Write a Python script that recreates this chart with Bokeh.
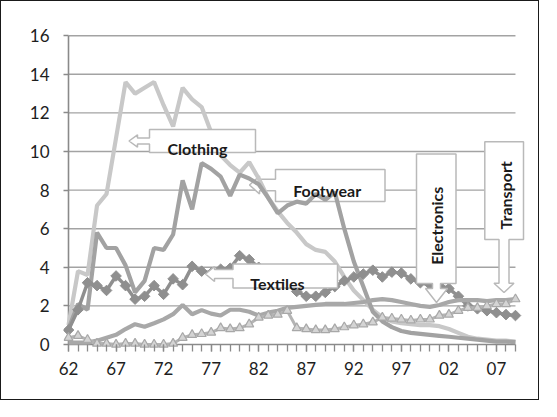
from bokeh.plotting import figure
from bokeh.models import ColumnDataSource, FixedTicker, Range1d
from bokeh.core.properties import value
from bokeh.embed import file_html
from bokeh.resources import INLINE
import math

# ---------------- data ----------------
YEARS = list(range(1962, 2010))
XTICK_YEARS = [1962, 1967, 1972, 1977, 1982, 1987, 1992, 1997, 2002, 2007]
XTICK_LABELS = ["62", "67", "72", "77", "82", "87", "92", "97", "02", "07"]
YTICKS = [0, 2, 4, 6, 8, 10, 12, 14, 16]

CLOTHING = [1.0, 3.8, 3.6, 7.2, 7.8, 10.7, 13.6, 13.0, 13.3, 13.6,
            12.4, 11.3, 13.3, 12.7, 12.3, 11.0, 9.8, 9.3, 8.9, 9.45,
            8.6, 7.6, 6.9, 6.3, 5.8, 5.2, 4.9, 4.8, 4.3, 3.5,
            2.8, 2.3, 1.8, 1.4, 1.2, 1.1, 1.05, 1.0, 1.0, 0.95,
            0.8, 0.6, 0.4, 0.3, 0.25, 0.2, 0.2, 0.15]
FOOTWEAR = [0.8, 2.1, 1.8, 5.8, 5.0, 5.0, 4.1, 2.7, 3.3, 5.0,
            4.9, 5.7, 8.5, 7.0, 9.4, 9.1, 8.7, 7.7, 8.8, 8.6,
            8.3, 7.6, 6.8, 7.2, 7.4, 7.3, 7.8, 7.5, 7.9, 6.0,
            4.3, 3.0, 1.7, 1.2, 0.9, 0.7, 0.6, 0.55, 0.5, 0.45,
            0.4, 0.35, 0.3, 0.25, 0.2, 0.15, 0.15, 0.12]
TEXTILES = [0.75, 1.8, 3.2, 3.05, 2.8, 3.55, 3.05, 2.35, 2.5, 3.05,
            2.6, 3.4, 3.1, 4.05, 3.8, 3.7, 3.9, 3.95, 4.6, 4.4,
            4.0, 3.7, 3.4, 3.1, 2.75, 2.5, 2.5, 2.7, 3.0, 3.3,
            3.5, 3.65, 3.85, 3.5, 3.75, 3.7, 3.4, 3.2, 3.1, 3.05,
            2.9, 2.5, 2.0, 1.85, 1.75, 1.65, 1.55, 1.5]
ELECTRONICS = [0.1, 0.1, 0.1, 0.2, 0.35, 0.5, 0.8, 1.05, 0.92, 1.1,
               1.3, 1.57, 2.05, 1.57, 1.78, 1.6, 1.5, 1.8, 1.8, 1.7,
               1.5, 1.65, 1.75, 1.9, 1.95, 2.0, 2.05, 2.1, 2.1, 2.1,
               2.15, 2.2, 2.3, 2.35, 2.3, 2.2, 2.1, 2.0, 1.95, 2.05,
               2.2, 2.3, 2.3, 2.3, 2.25, 2.3, 2.3, 2.35]
TRANSPORT = [0.35, 0.45, 0.25, 0.05, 0.05, 0.0, 0.05, 0.05, 0.0, 0.0,
             0.0, 0.05, 0.35, 0.5, 0.55, 0.62, 0.85, 0.8, 0.85, 1.05,
             1.4, 1.5, 1.55, 1.75, 0.85, 0.8, 0.75, 0.75, 0.8, 0.9,
             1.0, 1.05, 1.15, 1.4, 1.35, 1.3, 1.25, 1.3, 1.3, 1.5,
             1.55, 1.75, 1.9, 1.9, 2.0, 2.1, 2.1, 2.35]

SERIES_NAMES = ["Clothing", "Footwear", "Textiles", "Electronics", "Transport"]

src = ColumnDataSource(dict(year=YEARS, clothing=CLOTHING, footwear=FOOTWEAR,
                            textiles=TEXTILES, electronics=ELECTRONICS,
                            transport=TRANSPORT))

# ---------------- layout helpers (window pixels -> data) ----------------
PX_YEAR = 9.51     # pixels per year
PX_UNIT = 19.3     # pixels per y unit
X0_PX, Y0_PX = 76, 352   # window pixel of (1962, 0)


def dx(px):
    return YEARS[0] + (px - X0_PX) / PX_YEAR


def dy(py):
    return (Y0_PX - py) / PX_UNIT


W, H = 539, 400
ML, MR, MT, MB = 62, 13, 31, 50
ORG = 9  # canvas origin in window (8px margin + 1px border)
fl, fr = ORG + ML, ORG + W - MR
ft, fb = ORG + MT, ORG + H - MB

p = figure(width=W, height=H,
           x_range=Range1d(dx(fl), dx(fr)), y_range=Range1d(dy(fb), dy(ft)),
           output_backend="svg", toolbar_location=None,
           min_border_left=ML, min_border_right=MR,
           min_border_top=MT, min_border_bottom=MB)
p.styles = {"border": "1px solid #1a1a1a"}
p.background_fill_color = "white"
p.border_fill_color = "white"
p.outline_line_color = None
p.xgrid.visible = False
p.ygrid.visible = False

AXIS_COL = "#8a8a8a"
GRID_COL = "#a3a3a3"

# gridlines & axis lines
gy = [v for v in YTICKS if v > 0]
p.segment(x0=[YEARS[0]] * len(gy), x1=[YEARS[-1]] * len(gy), y0=gy, y1=gy,
          line_color=GRID_COL, line_width=1.4)
p.segment(x0=[YEARS[0]], x1=[YEARS[-1]], y0=[0], y1=[0],
          line_color=AXIS_COL, line_width=1.6)
p.segment(x0=[YEARS[0]], x1=[YEARS[0]], y0=[0], y1=[YTICKS[-1]],
          line_color=AXIS_COL, line_width=1.6)

# x axis
xa = p.xaxis[0]
xa.ticker = FixedTicker(ticks=XTICK_YEARS, minor_ticks=YEARS)
xa.major_label_overrides = {y: l for y, l in zip(XTICK_YEARS, XTICK_LABELS)}
xa.axis_line_color = None
xa.major_tick_in = 7
xa.major_tick_out = 0
xa.minor_tick_in = 7
xa.minor_tick_out = 0
xa.major_tick_line_color = AXIS_COL
xa.minor_tick_line_color = AXIS_COL
xa.major_tick_line_width = 1.3
xa.minor_tick_line_width = 1.3
xa.major_label_standoff = 10
xa.major_label_text_font = "Lato"
xa.major_label_text_font_size = "17px"
xa.major_label_text_color = "#1e1e1e"

# y axis
ya = p.yaxis[0]
ya.ticker = FixedTicker(ticks=YTICKS, minor_ticks=[])
ya.axis_line_color = None
ya.major_tick_in = 5
ya.major_tick_out = 0
ya.major_tick_line_color = AXIS_COL
ya.major_tick_line_width = 1.4
ya.minor_tick_line_color = None
ya.major_label_standoff = 14
ya.major_label_text_font = "Lato"
ya.major_label_text_font_size = "17px"
ya.major_label_text_color = "#1e1e1e"


# ---------------- callout shapes ----------------
def left_callout(l, t, r, b, tip_x, cy, head_back, head_half, shaft_half):
    pts = [(l, t), (r, t), (r, b), (l, b), (l, cy + shaft_half),
           (head_back, cy + shaft_half), (head_back, cy + head_half),
           (tip_x, cy), (head_back, cy - head_half),
           (head_back, cy - shaft_half), (l, cy - shaft_half)]
    return [dx(a) for a, _ in pts], [dy(c) for _, c in pts]


def down_callout(l, t, r, b, cx, tip_y, head_back, head_half, shaft_half):
    pts = [(l, t), (r, t), (r, b), (cx + shaft_half, b),
           (cx + shaft_half, head_back), (cx + head_half, head_back),
           (cx, tip_y), (cx - head_half, head_back),
           (cx - shaft_half, head_back), (cx - shaft_half, b), (l, b)]
    return [dx(a) for a, _ in pts], [dy(c) for _, c in pts]


CALLOUT_STYLE = dict(fill_color="white", line_color="#b9b9b9", line_width=1.5)

# Footwear callout sits beneath the series lines
fw = left_callout(283, 177, 392.5, 209, 257, 192.5, 267, 9, 5.8)
p.patch(fw[0], fw[1], **CALLOUT_STYLE)

# ---------------- series ----------------
p.line("year", "clothing", source=src, line_color="#c8c8c8", line_width=4.2)
p.line("year", "footwear", source=src, line_color="#a2a2a2", line_width=4.2)
p.line("year", "textiles", source=src, line_color="#8f8f8f", line_width=3.5)
p.scatter("year", "textiles", source=src, marker="square", angle=math.pi / 4,
          size=7.5, fill_color="#8f8f8f", line_color="#8f8f8f")
p.line("year", "electronics", source=src, line_color="#a8a8a8", line_width=4.2)
p.line("year", "transport", source=src, line_color="#b4b4b4", line_width=3)
p.scatter("year", "transport", source=src, marker="triangle", size=9,
          fill_color="#d4d4d4", line_color="#a8a8a8", line_width=1.2)

# remaining callouts on top
shapes = [
    left_callout(157, 137, 263, 160, 136.5, 148.5, 145, 6.2, 2.9),
    left_callout(240.5, 271.5, 345, 295.5, 213, 281.5, 222, 7.5, 4.5),
    down_callout(424, 161.5, 463.5, 291, 444, 310, 296, 11, 4),
    down_callout(492.3, 149.3, 531, 247, 511.5, 300, 290.7, 10, 5),
]
p.patches(xs=[s[0] for s in shapes], ys=[s[1] for s in shapes], **CALLOUT_STYLE)

lab_px = [(205, 156), (334.7, 197.5), (285, 290.5), (444.2, 233.3), (512.7, 202.8)]
lab_ang = [0, 0, 0, math.pi / 2, math.pi / 2]
p.text(x=[dx(a) for a, _ in lab_px], y=[dy(b) for _, b in lab_px],
       text=SERIES_NAMES, angle=lab_ang,
       text_font=value("Lato"), text_font_style="bold", text_font_size="16px",
       text_align="center", text_baseline="middle", text_color="#1a1a1a")

open("out.html", "w").write(file_html(p, INLINE))
